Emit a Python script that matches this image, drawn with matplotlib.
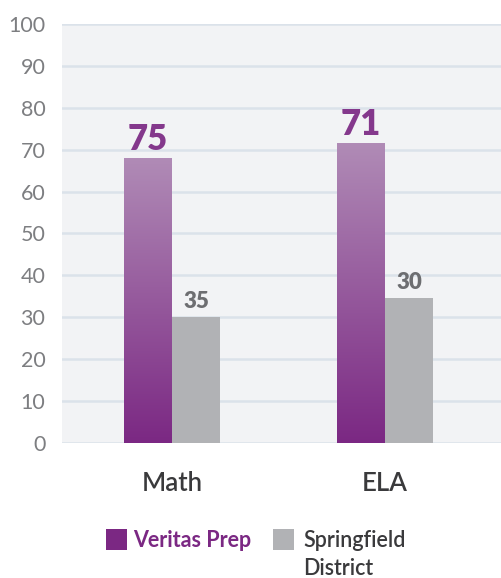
import matplotlib
matplotlib.use("Agg")
import matplotlib.pyplot as plt
import numpy as np
from matplotlib.patches import Rectangle
from matplotlib.colors import LinearSegmentedColormap

categories = ["Math", "ELA"]
series_names = ["Veritas Prep", "Springfield\nDistrict"]
veritas_heights = [68, 71.5]
springfield_heights = [30, 34.5]
veritas_labels = ["75", "71"]
springfield_labels = ["35", "30"]
yticks = [0, 10, 20, 30, 40, 50, 60, 70, 80, 90, 100]

PURPLE = "#7b2883"
PURPLE_LIGHT = "#b08bb6"
GRAY = "#b1b2b5"
LABEL_GRAY = "#6d6e71"
TICK_GRAY = "#7d7e81"
DARK = "#3a3a3c"
BG = "#f2f3f5"
GRID = "#dbe2ea"

plt.rcParams['font.family'] = ['Lato', 'DejaVu Sans']

W, H = 501, 578
fig = plt.figure(figsize=(W / 100, H / 100), dpi=100)
left, right, top, bottom = 62, 501, 24, 443
ax = fig.add_axes([left / W, 1 - bottom / H, (right - left) / W, (bottom - top) / H])
ax.set_facecolor(BG)
for s in ax.spines.values():
    s.set_visible(False)

x = np.arange(len(categories))
bw = 48 / 213
ax.set_xlim(-110 / 213, 1 + 116 / 213)
ax.set_ylim(0, 100)
ax.set_yticks(yticks)
ax.yaxis.grid(True, color=GRID, linewidth=1.8)
ax.set_axisbelow(True)
ax.tick_params(axis='y', length=0, pad=12, labelsize=15.5, labelcolor=TICK_GRAY)
for t in ax.get_yticklabels():
    t.set_fontweight('normal')
ax.set_xticks(x)
ax.set_xticklabels(categories, fontsize=18.5, color=DARK, fontweight='semibold')
ax.tick_params(axis='x', length=0, pad=20)

vb = ax.bar(x - bw / 2, veritas_heights, bw, color=PURPLE, zorder=2)
sb = ax.bar(x + bw / 2, springfield_heights, bw, color=GRAY, zorder=2)

cmap = LinearSegmentedColormap.from_list("pg", [PURPLE, PURPLE_LIGHT])
grad = np.linspace(0, 1, 256).reshape(-1, 1)
for rect in vb:
    x0, y0 = rect.get_x(), rect.get_y()
    im = ax.imshow(grad, cmap=cmap, origin='lower', aspect='auto',
                   extent=[x0, x0 + rect.get_width(), y0, y0 + rect.get_height()],
                   zorder=3)
    im.set_clip_path(rect)
ax.set_xlim(-110 / 213, 1 + 116 / 213)
ax.set_ylim(0, 100)

for rect, lab in zip(vb, veritas_labels):
    ax.annotate(lab, (rect.get_x() + rect.get_width() / 2, rect.get_height()),
                xytext=(0, 6), textcoords='offset points', ha='center', va='baseline',
                fontsize=25, fontweight='heavy', color="#84388c", zorder=4)
for rect, lab in zip(sb, springfield_labels):
    ax.annotate(lab, (rect.get_x() + rect.get_width() / 2, rect.get_height()),
                xytext=(0, 6.5), textcoords='offset points', ha='center', va='baseline',
                fontsize=16, fontweight='heavy', color=LABEL_GRAY, zorder=4)

# legend
def fx(px):
    return px / W
def fy(py):
    return 1 - py / H

fig.patches.append(Rectangle((fx(106), fy(550)), 21 / W, 21 / H, transform=fig.transFigure,
                             facecolor=PURPLE, edgecolor='none'))
fig.text(fx(133), fy(547), series_names[0], fontsize=15.5, fontweight='bold',
         color=PURPLE, va='baseline', ha='left')
fig.patches.append(Rectangle((fx(273), fy(550)), 21 / W, 21 / H, transform=fig.transFigure,
                             facecolor=GRAY, edgecolor='none'))
fig.text(fx(303), fy(547), series_names[1].split("\n")[0], fontsize=15.5, fontweight='semibold',
         color=DARK, va='baseline', ha='left')
fig.text(fx(303), fy(575), series_names[1].split("\n")[1], fontsize=15.5, fontweight='semibold',
         color=DARK, va='baseline', ha='left')

fig.savefig("out.png", dpi=100)
